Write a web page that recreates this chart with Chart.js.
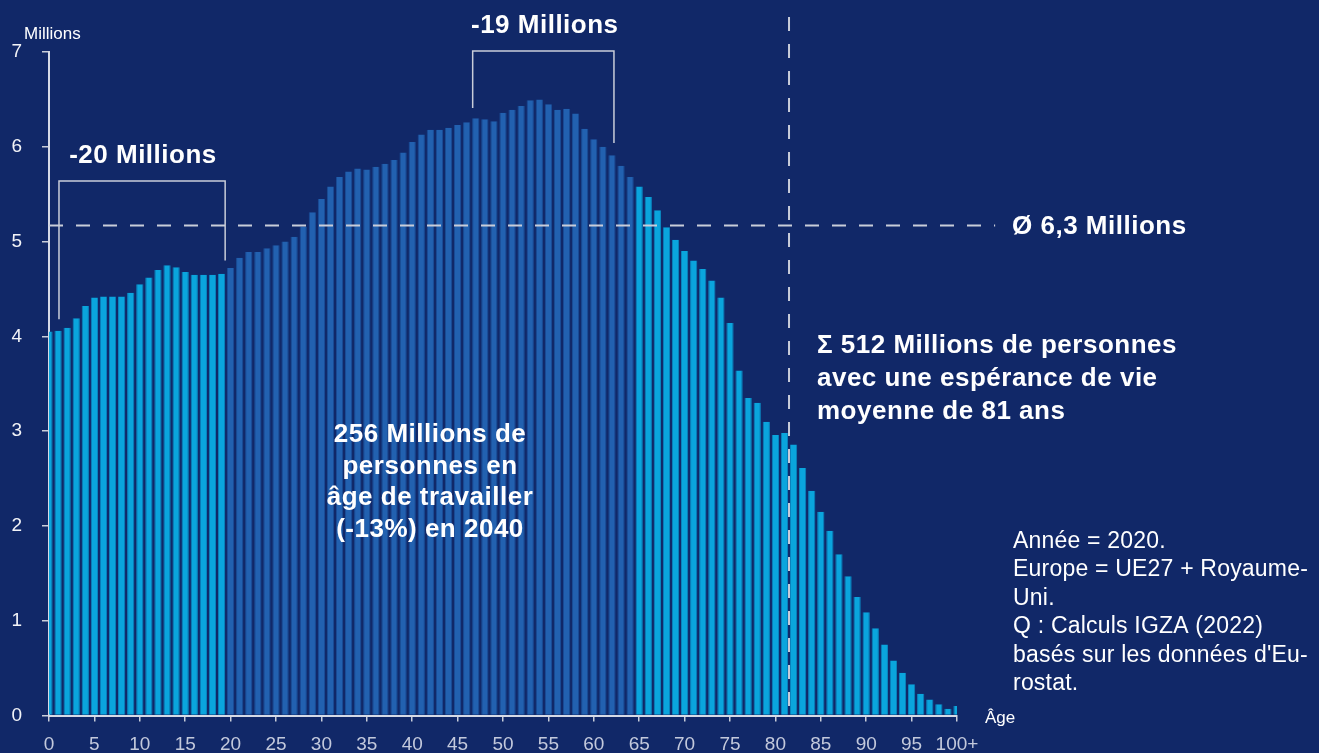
<!DOCTYPE html>
<html lang="fr">
<head>
<meta charset="utf-8">
<title>Population par âge – Europe 2020</title>
<script src="https://cdn.jsdelivr.net/npm/chart.js@4.4.1/dist/chart.umd.min.js"></script>
<style>
  html, body { margin: 0; padding: 0; background: #112868; }
  #wrap { width: 1319px; height: 753px; position: relative; }
  canvas { display: block; }
</style>
</head>
<body>
<div id="wrap"><canvas id="chart" width="1319" height="753"></canvas></div>
<script>
// Ages 0 … 99 and the open class "100+"
const ages = [];
for (let a = 0; a < 100; a++) ages.push(String(a));
ages.push('100+');

// Population per single year of age, in millions
const population = [
  4.05, 4.06, 4.09, 4.19, 4.32, 4.41, 4.42, 4.42, 4.42, 4.46,
  4.55, 4.62, 4.70, 4.75, 4.73, 4.68, 4.65, 4.65, 4.65, 4.66,
  4.72, 4.83, 4.89, 4.89, 4.93, 4.96, 5.00, 5.05, 5.16, 5.31,
  5.45, 5.58, 5.68, 5.74, 5.77, 5.76, 5.79, 5.82, 5.86, 5.94,
  6.05, 6.13, 6.18, 6.18, 6.20, 6.23, 6.26, 6.30, 6.29, 6.27,
  6.36, 6.39, 6.43, 6.49, 6.50, 6.45, 6.39, 6.40, 6.35, 6.19,
  6.08, 6.00, 5.91, 5.80, 5.68, 5.58, 5.47, 5.33, 5.15, 5.02,
  4.90, 4.80, 4.71, 4.59, 4.41, 4.14, 3.64, 3.35, 3.30, 3.10,
  2.96, 2.98, 2.86, 2.61, 2.37, 2.15, 1.95, 1.70, 1.47, 1.25,
  1.09, 0.92, 0.75, 0.58, 0.45, 0.33, 0.23, 0.17, 0.12, 0.07,
  0.10
];

// Working-age range (highlighted in the darker blue)
const workingAge = [20, 64];

// Y axis ticks (millions)
const yTicks = [0, 1, 2, 3, 4, 5, 6, 7];

// Reference lines
const averageLine = { value: 5.17, fromAge: 0, toAge: 104.2 };
const lifeExpectancyLine = { age: 81.5, fromValue: 7.37, toValue: 0 };

// Brackets: [leftAge, rightAge, topValue, leftBottomValue, rightBottomValue]
const brackets = [
  [1.1, 19.4, 5.64, 4.18, 4.80],
  [46.66, 62.22, 7.01, 6.41, 6.04]
];

// Text annotations anchored in data units
const bracketLabels = [
  { text: '-20 Millions', age: 10.35, value: 5.90 },
  { text: '-19 Millions', age: 54.6, value: 7.28 }
];
const averageLabel = { text: 'Ø 6,3 Millions', age: 106.06, value: 5.16 };
const totalLines = ['Σ 512 Millions de personnes', 'avec une espérance de vie', 'moyenne de 81 ans'];
const totalAnchor = { age: 84.58, value: 3.90 };
const workingLines = ['256 Millions de', 'personnes en', 'âge de travailler', '(-13%) en 2040'];
const workingAnchor = { age: 41.96, value: 2.96 };
const noteLines = ['Année = 2020.', 'Europe = UE27 + Royaume-', 'Uni.', 'Q : Calculs IGZA (2022)', "basés sur les données d'Eu-", 'rostat.'];
const noteAnchor = { age: 106.17, value: 1.835 };

const COLORS = {
  light: '#0aa5dd',
  lightEdge: '#0a86c0',
  dark: '#2261b0',
  darkEdge: '#1a4d97',
  line: '#c9cdd9',
  text: '#ffffff',
  tick: '#c3c9dc'
};

const FONT = '"Liberation Sans", Arial, Helvetica, sans-serif';

function isWorking(i) { return i >= workingAge[0] && i <= workingAge[1]; }

const annotationsPlugin = {
  id: 'annotations',
  afterDatasetsDraw(chart) {
    const { ctx, scales: { x, y } } = chart;
    ctx.save();

    // dashed reference lines
    ctx.strokeStyle = COLORS.line;
    ctx.lineWidth = 2;
    ctx.setLineDash([14, 13]);
    ctx.beginPath();
    const ay = y.getPixelForValue(averageLine.value);
    ctx.moveTo(x.getPixelForValue(averageLine.fromAge), ay);
    ctx.lineTo(x.getPixelForValue(averageLine.toAge), ay);
    ctx.stroke();
    ctx.beginPath();
    const lx = x.getPixelForValue(lifeExpectancyLine.age);
    ctx.moveTo(lx, y.getPixelForValue(lifeExpectancyLine.fromValue));
    ctx.lineTo(lx, y.getPixelForValue(lifeExpectancyLine.toValue));
    ctx.stroke();
    ctx.setLineDash([]);

    // brackets
    ctx.lineWidth = 1.5;
    brackets.forEach(([a0, a1, top, b0, b1]) => {
      const x0 = x.getPixelForValue(a0), x1 = x.getPixelForValue(a1);
      ctx.beginPath();
      ctx.moveTo(x0, y.getPixelForValue(b0));
      ctx.lineTo(x0, y.getPixelForValue(top));
      ctx.lineTo(x1, y.getPixelForValue(top));
      ctx.lineTo(x1, y.getPixelForValue(b1));
      ctx.stroke();
    });

    // bold annotations
    ctx.fillStyle = COLORS.text;
    ctx.textBaseline = 'middle';
    ctx.font = 'bold 26px ' + FONT;
    if ('letterSpacing' in ctx) ctx.letterSpacing = '0.5px';
    ctx.textAlign = 'center';
    bracketLabels.forEach(l => ctx.fillText(l.text, x.getPixelForValue(l.age), y.getPixelForValue(l.value)));
    const wx = x.getPixelForValue(workingAnchor.age);
    const wy = y.getPixelForValue(workingAnchor.value);
    workingLines.forEach((t, i) => ctx.fillText(t, wx, wy + i * 31.5));

    ctx.textAlign = 'left';
    ctx.fillText(averageLabel.text, x.getPixelForValue(averageLabel.age), y.getPixelForValue(averageLabel.value));
    const tx = x.getPixelForValue(totalAnchor.age);
    const ty = y.getPixelForValue(totalAnchor.value);
    totalLines.forEach((t, i) => ctx.fillText(t, tx, ty + i * 33));

    // notes
    if ('letterSpacing' in ctx) ctx.letterSpacing = '0.2px';
    ctx.font = '23px ' + FONT;
    const nx = x.getPixelForValue(noteAnchor.age);
    const ny = y.getPixelForValue(noteAnchor.value);
    noteLines.forEach((t, i) => ctx.fillText(t, nx, ny + i * 28.5));
    if ('letterSpacing' in ctx) ctx.letterSpacing = '0px';

    // axis titles
    ctx.font = '17px ' + FONT;
    ctx.fillText('Millions', x.left - 25, y.top - 18);
    ctx.fillText('Âge', x.right + 28, y.bottom + 3);

    ctx.restore();
  }
};

new Chart(document.getElementById('chart'), {
  type: 'bar',
  data: {
    labels: ages,
    datasets: [{
      data: population,
      backgroundColor: population.map((_, i) => isWorking(i) ? COLORS.dark : COLORS.light),
      borderColor: population.map((_, i) => isWorking(i) ? COLORS.darkEdge : COLORS.lightEdge),
      borderWidth: { left: 1, right: 1, top: 0, bottom: 0 },
      borderSkipped: false,
      barPercentage: 0.8,
      categoryPercentage: 1,
      clip: 0
    }]
  },
  options: {
    responsive: false,
    animation: false,
    events: [],
    layout: { padding: { top: 52, right: 362, bottom: 0, left: 0 } },
    plugins: { legend: { display: false }, tooltip: { enabled: false } },
    scales: {
      x: {
        type: 'category',
        offset: false,
        grid: { offset: false, drawOnChartArea: false, color: COLORS.line, tickLength: 6, lineWidth: 1.5 },
        border: { display: true, color: '#d6dae6', width: 2 },
        ticks: {
          autoSkip: false,
          maxRotation: 0,
          padding: 12,
          color: COLORS.tick,
          font: { family: FONT, size: 19 },
          callback: (v, i) => (i % 5 === 0 ? ages[i] : null)
        },
        afterFit: s => { s.height = 37.5; }
      },
      y: {
        min: yTicks[0],
        max: yTicks[yTicks.length - 1],
        afterBuildTicks: s => { s.ticks = yTicks.map(v => ({ value: v })); },
        grid: { drawOnChartArea: false, color: COLORS.line, tickLength: 7, lineWidth: 1.5 },
        border: { display: true, color: '#d6dae6', width: 2 },
        ticks: { padding: 20, color: '#f2f3f7', font: { family: FONT, size: 19 } },
        afterFit: s => { s.width = 49; }
      }
    }
  },
  plugins: [annotationsPlugin]
});
</script>
</body>
</html>
